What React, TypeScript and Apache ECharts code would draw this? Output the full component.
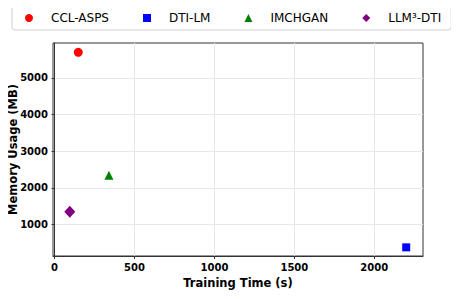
import React, { useEffect, useRef } from "react";
import * as echarts from "echarts";

const methods = ["CCL-ASPS", "DTI-LM", "IMCHGAN", "LLM³-DTI"];
const trainingTime = [148, 2200, 340, 95];
const memoryUsage = [5700, 380, 2350, 1350];
const colors = ["#ff0000", "#0000ff", "#008000", "#800080"];
const symbols = ["circle", "rect", "triangle", "diamond"];
const symbolSizes: (number | number[])[] = [9, 8, [9, 9], [11, 12]];
const xTicks = [0, 500, 1000, 1500, 2000];
const yTicks = [1000, 2000, 3000, 4000, 5000];

export default function App() {
  const ref = useRef<HTMLDivElement>(null);
  useEffect(() => {
    if (!ref.current) return;
    const chart = echarts.init(ref.current, null, { renderer: "svg" });
    const font = "DejaVu Sans";
    chart.setOption({
      animation: false,
      textStyle: { fontFamily: font },
      legend: {
        top: 6,
        left: 12,
        padding: [6, 10, 6, 13],
        itemWidth: 8,
        itemHeight: 8,
        itemGap: 34,
        borderColor: "#d0d0d0",
        borderWidth: 1,
        borderRadius: 3,
        textStyle: { fontFamily: font, fontSize: 12, color: "#000", padding: [0, 0, 0, 13] },
        data: methods.map((m, i) => ({ name: m, icon: symbols[i] })),
      },
      grid: {
        left: 53,
        top: 43,
        right: 36,
        bottom: 43,
        show: true,
        borderColor: "#333",
        borderWidth: 1,
        outerBoundsMode: "none",
        containLabel: false,
      },
      xAxis: {
        type: "value",
        min: -10,
        max: 2305,
        name: "Training Time (s)",
        nameLocation: "middle",
        nameGap: 21,
        nameMoveOverlap: false,
        nameTextStyle: { fontFamily: font, fontSize: 11.5, fontWeight: "bold", color: "#000" },
        axisLine: { show: true, lineStyle: { color: "#333" } },
        axisTick: { show: true, length: 3, customValues: xTicks, lineStyle: { color: "#333" } },
        axisLabel: {
          customValues: xTicks,
          formatter: (v: number) => String(v),
          margin: 6,
          fontFamily: font,
          fontSize: 10,
          fontWeight: "bold",
          color: "#000",
        },
        splitLine: { show: true, lineStyle: { color: "#e8e8e8", width: 1 } },
      },
      yAxis: {
        type: "value",
        min: 144,
        max: 5954,
        name: "Memory Usage (MB)",
        nameLocation: "middle",
        nameGap: 34,
        nameMoveOverlap: false,
        nameTextStyle: { fontFamily: font, fontSize: 11.5, fontWeight: "bold", color: "#000" },
        axisLine: { show: true, lineStyle: { color: "#333" } },
        axisTick: { show: true, length: 3, customValues: yTicks, lineStyle: { color: "#333" } },
        axisLabel: {
          customValues: yTicks,
          formatter: (v: number) => String(v),
          margin: 5,
          fontFamily: font,
          fontSize: 10,
          fontWeight: "bold",
          color: "#000",
        },
        splitLine: { show: true, lineStyle: { color: "#e8e8e8", width: 1 } },
      },
      series: methods.map((m, i) => ({
        name: m,
        type: "scatter",
        symbol: symbols[i],
        symbolSize: symbolSizes[i],
        itemStyle: { color: colors[i], opacity: 1 },
        data: [[trainingTime[i], memoryUsage[i]]],
      })),
    });
    return () => chart.dispose();
  }, []);
  return <div ref={ref} style={{ width: 459, height: 299, margin: -8 }} />;
}
